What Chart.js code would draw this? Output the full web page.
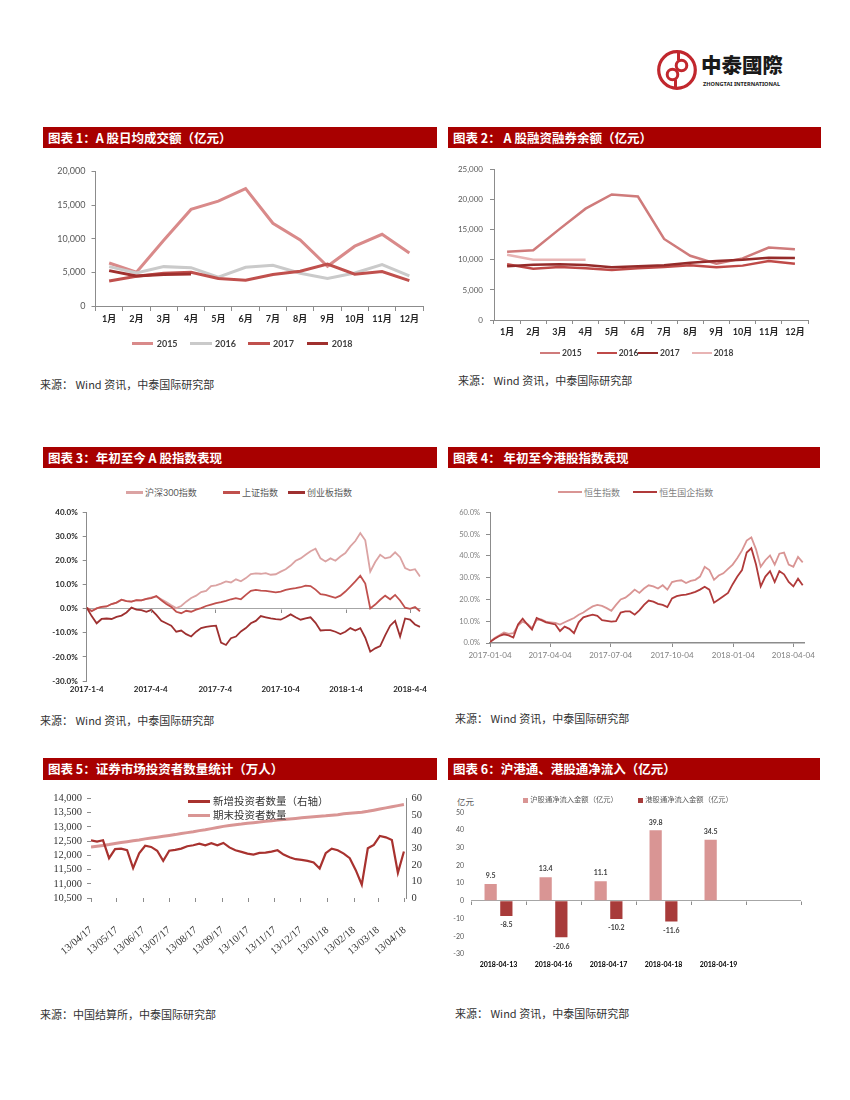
<!DOCTYPE html>
<html lang="zh-CN"><head><meta charset="utf-8"><title>中泰国际</title>
<script src="https://cdn.jsdelivr.net/npm/chart.js@4.4.1/dist/chart.umd.min.js"></script>
<style>
html,body{margin:0;padding:0;background:#fff;}
#page{position:relative;width:850px;height:1100px;overflow:hidden;font-family:"Noto Sans CJK SC","Noto Sans",sans-serif;}
.bar{position:absolute;height:21px;background:#A80000;color:#fff;font-weight:700;font-size:12.5px;line-height:21px;padding-left:5px;box-sizing:border-box;white-space:nowrap;}
.src{position:absolute;font-size:11px;line-height:14px;color:#333;white-space:nowrap;}
.cw{position:absolute;}
</style></head>
<body><div id="page">
<svg style="position:absolute;left:656px;top:49px" width="42" height="42" viewBox="0 0 42 42">
 <circle cx="21" cy="21" r="18.3" fill="none" stroke="#C1272D" stroke-width="3.2"/>
 <path d="M22.5 3 L22.5 11.5 M19.5 30.5 L19.5 39" stroke="#C1272D" stroke-width="3" fill="none"/>
 <circle cx="25.5" cy="16.5" r="5.3" fill="none" stroke="#C1272D" stroke-width="3"/>
 <circle cx="16.5" cy="25.5" r="5.3" fill="none" stroke="#C1272D" stroke-width="3"/>
</svg>
<div style="position:absolute;left:701px;top:53px;font-family:'Noto Sans CJK TC';font-weight:900;font-size:20.5px;line-height:22px;color:#1a1a1a;">中泰國際</div>
<div style="position:absolute;left:703px;top:81px;font-family:'Noto Sans';font-weight:700;font-size:5.6px;line-height:7px;color:#1a1a1a;">ZHONGTAI INTERNATIONAL</div>

<div class="bar" style="left:43px;top:127px;width:394px">图表 1：A 股日均成交额（亿元）</div>
<div class="bar" style="left:448px;top:127px;width:373px">图表 2： A 股融资融券余额（亿元）</div>
<div class="bar" style="left:43px;top:447px;width:394px">图表 3：年初至今 A 股指数表现</div>
<div class="bar" style="left:448px;top:447px;width:372px">图表 4： 年初至今港股指数表现</div>
<div class="bar" style="left:43px;top:758px;width:394px;height:22px;line-height:22px">图表 5：证券市场投资者数量统计（万人）</div>
<div class="bar" style="left:448px;top:758px;width:372px;height:22px;line-height:22px">图表 6：沪港通、港股通净流入（亿元）</div>

<div class="src" style="left:40px;top:377px">来源： Wind 资讯，中泰国际研究部</div>
<div class="src" style="left:458px;top:373px">来源： Wind 资讯，中泰国际研究部</div>
<div class="src" style="left:40px;top:713px">来源： Wind 资讯，中泰国际研究部</div>
<div class="src" style="left:455px;top:711px">来源： Wind 资讯，中泰国际研究部</div>
<div class="src" style="left:40px;top:1007px">来源：中国结算所，中泰国际研究部</div>
<div class="src" style="left:455px;top:1006px">来源： Wind 资讯，中泰国际研究部</div>

<div style="position:absolute;left:457px;top:795px;font-size:8.5px;line-height:12px;color:#595959">亿元</div>

<div class="cw" style="left:40px;top:160px;width:395px;height:166px"><canvas id="c1"></canvas></div>
<div class="cw" style="left:445px;top:158px;width:375px;height:182px"><canvas id="c2"></canvas></div>
<div class="cw" style="left:40px;top:500px;width:395px;height:199px"><canvas id="c3"></canvas></div>
<div class="cw" style="left:445px;top:500px;width:375px;height:163px"><canvas id="c4"></canvas></div>
<div class="cw" style="left:40px;top:785px;width:395px;height:175px"><canvas id="c5"></canvas></div>
<div class="cw" style="left:445px;top:800px;width:375px;height:174px"><canvas id="c6"></canvas></div>
</div>
<script>
// ---------- Chart 1: A股日均成交额 ----------
const months = ['1月','2月','3月','4月','5月','6月','7月','8月','9月','10月','11月','12月'];
const years = ['2015','2016','2017','2018'];
const turnover2015 = [6390, 5010, 9780, 14350, 15580, 17440, 12290, 9830, 5900, 8890, 10660, 7860];
const turnover2016 = [5850, 4900, 5850, 5700, 4280, 5750, 6040, 4870, 4080, 4910, 6140, 4470];
const turnover2017 = [3730, 4420, 4870, 5010, 4080, 3830, 4670, 5160, 6240, 4720, 5110, 3780];
const turnover2018 = [5260, 4470, 4670, 4770];
// ---------- Chart 2: 融资融券余额 ----------
const margin2015 = [11350, 11620, 15130, 18530, 20890, 20560, 13490, 10690, 9380, 10250, 12060, 11790];
const margin2016 = [9270, 8550, 8830, 8610, 8330, 8610, 8830, 9100, 8770, 9050, 9810, 9380];
const margin2017 = [8940, 9210, 9270, 9160, 8770, 8940, 9100, 9540, 9810, 10030, 10360, 10310];
const margin2018 = [10860, 10030, 10030, 10030];
// ---------- Chart 3 & 4: weekly index performance ----------
const weeklyDates = ["2017-01-04","2017-01-11","2017-01-18","2017-01-25","2017-02-01","2017-02-08","2017-02-15","2017-02-22","2017-03-01","2017-03-08","2017-03-15","2017-03-22","2017-03-29","2017-04-05","2017-04-12","2017-04-19","2017-04-26","2017-05-03","2017-05-10","2017-05-17","2017-05-24","2017-05-31","2017-06-07","2017-06-14","2017-06-21","2017-06-28","2017-07-05","2017-07-12","2017-07-19","2017-07-26","2017-08-02","2017-08-09","2017-08-16","2017-08-23","2017-08-30","2017-09-06","2017-09-13","2017-09-20","2017-09-27","2017-10-04","2017-10-11","2017-10-18","2017-10-25","2017-11-01","2017-11-08","2017-11-15","2017-11-22","2017-11-29","2017-12-06","2017-12-13","2017-12-20","2017-12-27","2018-01-03","2018-01-10","2018-01-17","2018-01-24","2018-01-31","2018-02-07","2018-02-14","2018-02-21","2018-02-28","2018-03-07","2018-03-14","2018-03-21","2018-03-28","2018-04-04","2018-04-11","2018-04-18"];
const aNames = ['沪深300指数','上证指数','创业板指数'];
const hs300 = [0.5,-0.8,0.2,0.8,1.0,2.0,2.6,3.8,3.2,3.0,3.6,3.5,4.2,4.8,5.2,4.0,2.8,1.5,0.3,1.2,3.0,4.5,5.5,7.0,7.5,9.5,9.8,10.5,11.4,11.0,12.3,11.5,12.8,14.5,14.8,14.6,14.9,14.2,14.4,15.5,16.5,18.0,20.0,21.0,22.5,24.0,25.0,21.0,19.7,21.0,20.0,21.8,23.2,26.0,28.2,31.5,28.5,15.5,19.5,22.5,21.0,21.5,23.5,21.5,17.0,16.0,16.5,13.5];
const szzs = [0.5,-1.0,0.2,0.8,1.0,2.0,2.6,3.8,3.2,3.0,3.6,3.5,4.2,4.5,5.3,3.6,2.0,0.8,-1.2,-1.8,-0.8,-1.2,-0.3,0.3,1.2,1.8,2.4,2.8,3.3,4.0,4.5,4.0,5.8,7.5,7.9,7.6,7.5,7.2,6.9,7.2,7.9,8.3,8.6,9.0,9.7,9.5,8.0,6.1,5.8,5.2,4.6,5.5,7.2,9.3,11.4,13.8,10.5,0.2,1.8,3.8,5.5,4.0,5.8,3.5,0.5,0.0,0.8,-1.0];
const cyb = [0.5,-3.0,-6.0,-4.2,-4.0,-4.2,-3.3,-2.8,-1.5,0.5,-0.3,-0.5,-1.2,-0.4,-2.5,-5.0,-6.0,-7.0,-9.5,-9.0,-10.5,-11.5,-9.5,-8.0,-7.5,-7.2,-7.0,-14.0,-15.0,-12.2,-11.5,-9.4,-8.0,-6.0,-5.0,-3.0,-3.5,-4.0,-4.3,-4.5,-3.5,-2.3,-3.5,-4.5,-4.0,-3.5,-5.8,-9.0,-8.8,-8.8,-9.5,-10.5,-9.5,-8.0,-9.0,-8.0,-12.0,-17.8,-16.4,-15.5,-11.0,-7.0,-5.0,-11.5,-4.0,-4.5,-6.5,-7.5];
const ticks3 = ['2017-1-4','2017-4-4','2017-7-4','2017-10-4','2018-1-4','2018-4-4'];
const hkNames = ['恒生指数','恒生国企指数'];
const hsi = [0.5,2.3,3.5,4.8,4.2,4.5,8.0,9.8,8.8,6.8,10.5,10.8,9.8,9.5,9.2,8.5,9.5,10.5,11.5,13.0,14.0,15.5,16.8,17.5,17.0,16.0,14.8,17.5,20.0,20.8,22.5,24.5,23.0,25.0,26.5,26.0,25.0,26.5,24.5,28.0,28.5,28.8,27.5,28.5,29.0,30.5,35.0,33.5,29.0,31.0,32.0,34.0,36.0,39.0,42.5,47.0,48.5,43.0,35.0,38.0,40.2,36.0,41.0,41.5,36.0,35.0,39.5,37.0];
const hscei = [0.5,2.0,3.2,4.0,3.5,2.5,8.5,11.2,8.5,6.2,11.5,10.5,9.5,9.0,8.5,5.5,7.5,6.5,4.5,9.5,11.8,12.5,13.0,12.5,10.5,10.2,9.8,10.0,14.0,14.5,14.5,13.0,15.0,17.5,19.5,19.0,18.0,17.5,16.5,20.5,21.5,22.0,22.2,22.8,23.5,24.5,25.8,24.5,18.5,20.0,21.5,23.0,27.0,30.5,33.5,41.5,43.5,36.0,26.0,30.5,33.0,28.0,33.0,31.5,28.0,26.0,29.5,26.5];
const ticks4 = ['2017-01-04','2017-04-04','2017-07-04','2017-10-04','2018-01-04','2018-04-04'];
// ---------- Chart 5: 投资者数量 ----------
const investorDates = ["2017-04-13","2017-04-20","2017-04-27","2017-05-04","2017-05-11","2017-05-18","2017-05-25","2017-06-01","2017-06-08","2017-06-15","2017-06-22","2017-06-29","2017-07-06","2017-07-13","2017-07-20","2017-07-27","2017-08-03","2017-08-10","2017-08-17","2017-08-24","2017-08-31","2017-09-07","2017-09-14","2017-09-21","2017-09-28","2017-10-05","2017-10-12","2017-10-19","2017-10-26","2017-11-02","2017-11-09","2017-11-16","2017-11-23","2017-11-30","2017-12-07","2017-12-14","2017-12-21","2017-12-28","2018-01-04","2018-01-11","2018-01-18","2018-01-25","2018-02-01","2018-02-08","2018-02-15","2018-02-22","2018-03-01","2018-03-08","2018-03-15","2018-03-22","2018-03-29","2018-04-05","2018-04-12"];
const investorNames = ['新增投资者数量（右轴）','期末投资者数量'];
const newInvestors = [34.8,34.0,34.8,24.0,29.5,29.8,28.8,18.0,27.0,31.5,30.8,28.5,22.4,28.5,29.0,29.8,31.2,31.8,32.8,31.8,33.0,31.8,33.2,30.5,28.8,27.8,26.8,26.2,27.2,27.4,28.0,28.8,26.2,24.6,23.4,23.0,22.4,21.4,17.8,27.0,29.8,28.8,26.8,24.0,16.8,8.0,30.0,32.0,37.4,36.6,35.0,15.2,28.0];
const totalInvestors = [12290,12320,12350,12380,12420,12450,12480,12510,12540,12580,12610,12640,12670,12700,12730,12770,12800,12830,12870,12900,12940,12980,13020,13050,13080,13100,13130,13150,13170,13200,13220,13240,13260,13280,13300,13320,13340,13360,13375,13390,13410,13430,13460,13480,13500,13520,13550,13590,13630,13670,13710,13750,13790];
const ticks5 = ['13/04/17','13/05/17','13/06/17','13/07/17','13/08/17','13/09/17','13/10/17','13/11/17','13/12/17','13/01/18','13/02/18','13/03/18','13/04/18'];
// ---------- Chart 6: 沪港通 / 港股通 ----------
const flowDates = ['2018-04-13','2018-04-16','2018-04-17','2018-04-18','2018-04-19',''];
const flowNames = ['沪股通净流入金额（亿元）','港股通净流入金额（亿元）'];
const northbound = [9.5, 13.4, 11.1, 39.8, 34.5, null];
const southbound = [-8.5, -20.6, -10.2, -11.6, null, null];

// ---------- helpers ----------
function dayNum(s){ const p=s.split('-').map(Number); return Date.UTC(p[0],p[1]-1,p[2])/86400000; }
function dayNumDMY(s){ const p=s.split('/').map(Number); return Date.UTC(2000+p[2],p[1]-1,p[0])/86400000; }
function toXY(dates, vals, base){ return dates.map((d,i)=>({x:dayNum(d)-base, y:vals[i]})); }
const fixW = w => s => { s.width = w; };
const fixH = h => s => { s.height = h; };
const GRAY = '#8c8c8c';
const SANS = "Lato, 'Noto Sans CJK SC', sans-serif";
const SERIF = "'Liberation Serif', 'Noto Sans CJK SC', serif";

Chart.defaults.font.family = SANS;
Chart.defaults.animation = false;
Chart.defaults.responsive = true;
Chart.defaults.maintainAspectRatio = false;
Chart.defaults.plugins.legend.display = false;
Chart.defaults.plugins.tooltip.enabled = false;
Chart.defaults.elements.point.radius = 0;
Chart.defaults.elements.line.tension = 0;

function addLegend(chart, xs, o){
  const page = document.getElementById('page');
  chart.data.datasets.forEach((ds,i)=>{
    const y = Array.isArray(o.y) ? o.y[i] : o.y;
    const mh = Array.isArray(o.mh) ? o.mh[i] : o.mh;
    const m = document.createElement('div');
    m.style.cssText = `position:absolute;left:${xs[i]}px;top:${y-mh/2}px;width:${o.mw}px;height:${mh}px;background:${o.square?ds.backgroundColor:ds.borderColor}`;
    page.appendChild(m);
    const t = document.createElement('div');
    t.textContent = ds.label;
    const lh = Math.round(o.fs*1.4);
    t.style.cssText = `position:absolute;left:${xs[i]+o.mw+o.gap}px;top:${y-lh/2}px;line-height:${lh}px;font-size:${o.fs}px;font-family:${o.family||SANS};font-weight:${o.weight||400};color:${o.color};white-space:nowrap`;
    page.appendChild(t);
  });
}
const zeroTicks = getXs => ({
  id:'zeroTicks',
  afterDatasetsDraw(chart){
    const ctx = chart.ctx, y0 = Math.round(chart.scales.y.getPixelForValue(0))+0.5;
    ctx.save(); ctx.strokeStyle = GRAY; ctx.lineWidth = 1; ctx.beginPath();
    getXs(chart).forEach(x=>{ ctx.moveTo(Math.round(x)+0.5, y0); ctx.lineTo(Math.round(x)+0.5, y0+3.5); });
    ctx.stroke(); ctx.restore();
  }
});

// ---------- Chart 1 ----------
const ch1 = new Chart(document.getElementById('c1'), {
  type:'line',
  data:{labels:months, datasets:[
    {label:years[0], data:turnover2015, borderColor:'#D98A8A', borderWidth:3, order:3},
    {label:years[1], data:turnover2016, borderColor:'#CACACA', borderWidth:3, order:2},
    {label:years[2], data:turnover2017, borderColor:'#C0504D', borderWidth:3, order:1},
    {label:years[3], data:turnover2018, borderColor:'#A0302E', borderWidth:3, order:0}
  ]},
  options:{
    layout:{padding:{top:10,right:12,bottom:0,left:0}},
    scales:{
      x:{offset:true, grid:{drawOnChartArea:false, offset:true, tickLength:5, color:GRAY}, border:{color:GRAY},
         ticks:{font:{size:9,weight:'bold'}, color:'#262626', padding:3, autoSkip:false, maxRotation:0}, afterFit:fixH(20)},
      y:{min:0, max:20000, ticks:{stepSize:5000, font:{size:9}, color:'#595959', padding:6, autoSkip:false},
         grid:{drawOnChartArea:false, tickLength:4, color:GRAY}, border:{color:GRAY}, afterFit:fixW(55.5)}
    }
  }
});
addLegend(ch1, [131.7,190,248,306.7], {y:343, mw:21.5, mh:3, gap:3.5, fs:9, weight:700, color:'#404040'});

// ---------- Chart 2 ----------
const ch2 = new Chart(document.getElementById('c2'), {
  type:'line',
  data:{labels:months, datasets:[
    {label:years[0], data:margin2015, borderColor:'#CF7B7B', borderWidth:2.5, order:3},
    {label:years[1], data:margin2016, borderColor:'#BF4A48', borderWidth:2.5, order:2},
    {label:years[2], data:margin2017, borderColor:'#952B2A', borderWidth:2.5, order:1},
    {label:years[3], data:margin2018, borderColor:'#E8B4B4', borderWidth:2.5, order:0}
  ]},
  options:{
    layout:{padding:{top:10,right:12,bottom:0,left:0}},
    scales:{
      x:{offset:true, grid:{drawOnChartArea:false, offset:true, tickLength:4, color:GRAY}, border:{color:GRAY},
         ticks:{font:{size:9,weight:'bold'}, color:'#262626', padding:3, autoSkip:false, maxRotation:0}, afterFit:fixH(20)},
      y:{min:0, max:25000, ticks:{stepSize:5000, font:{size:8}, color:'#595959', padding:7, autoSkip:false},
         grid:{drawOnChartArea:false, tickLength:4, color:GRAY}, border:{color:GRAY}, afterFit:fixW(49)}
    }
  }
});
addLegend(ch2, [540,596.7,638,691.7], {y:353, mw:20, mh:2.5, gap:2, fs:8.5, weight:700, color:'#404040'});

// ---------- Chart 3 ----------
const base3 = dayNum(weeklyDates[0]);
const tickMap3 = {}; ticks3.forEach(t=>{ tickMap3[dayNum(t)-base3] = t; });
const ch3 = new Chart(document.getElementById('c3'), {
  type:'line',
  data:{datasets:[
    {label:aNames[0], data:toXY(weeklyDates,hs300,base3), borderColor:'#DBA3A3', borderWidth:1.8, order:2},
    {label:aNames[1], data:toXY(weeklyDates,szzs,base3), borderColor:'#C0504D', borderWidth:1.8, order:1},
    {label:aNames[2], data:toXY(weeklyDates,cyb,base3), borderColor:'#9E3030', borderWidth:1.8, order:0}
  ]},
  options:{
    layout:{padding:{top:12.7,right:14.3,bottom:0,left:0}},
    scales:{
      x:{type:'linear', min:0, max:470,
         afterBuildTicks:s=>{ s.ticks = Object.keys(tickMap3).map(v=>({value:+v})); },
         ticks:{callback:v=>tickMap3[v], font:{size:8,weight:'bold'}, color:'#262626', padding:4, autoSkip:false, maxRotation:0},
         grid:{display:false, drawTicks:false}, border:{display:false}, afterFit:fixH(18)},
      y:{min:-30, max:40, ticks:{stepSize:10, callback:v=>v.toFixed(1)+'%', font:{size:8,weight:'bold'}, color:'#262626', padding:5, autoSkip:false},
         grid:{color:c=>c.tick && c.tick.value===0 ? '#a6a6a6' : 'rgba(0,0,0,0)', tickColor:GRAY, tickLength:4}, border:{color:GRAY}, afterFit:fixW(46.7)}
    }
  },
  plugins:[zeroTicks(ch=>Object.keys(tickMap3).slice(1).map(v=>ch.scales.x.getPixelForValue(+v)))]
});
addLegend(ch3, [126,223,288], {y:492.7, mw:17, mh:2.5, gap:2, fs:9, color:'#595959'});

// ---------- Chart 4 ----------
const tickMap4 = {}; ticks4.forEach(t=>{ tickMap4[dayNum(t)-base3] = t; });
const ch4 = new Chart(document.getElementById('c4'), {
  type:'line',
  data:{datasets:[
    {label:hkNames[0], data:toXY(weeklyDates,hsi,base3), borderColor:'#D99594', borderWidth:1.8, order:1},
    {label:hkNames[1], data:toXY(weeklyDates,hscei,base3), borderColor:'#B03A3A', borderWidth:1.8, order:0}
  ]},
  options:{
    layout:{padding:{top:12.3,right:15.3,bottom:0,left:0}},
    scales:{
      x:{type:'linear', min:0, max:472,
         afterBuildTicks:s=>{ s.ticks = Object.keys(tickMap4).map(v=>({value:+v})); },
         ticks:{callback:v=>tickMap4[v], font:{size:8}, color:'#7f7f7f', padding:4, autoSkip:false, maxRotation:0},
         grid:{drawOnChartArea:false, tickLength:4, color:GRAY}, border:{color:GRAY, width:1.5}, afterFit:fixH(20)},
      y:{min:0, max:60, ticks:{stepSize:10, callback:v=>v.toFixed(1)+'%', font:{size:7.5}, color:'#7f7f7f', padding:6, autoSkip:false},
         grid:{drawOnChartArea:false, tickLength:4, color:GRAY}, border:{color:GRAY}, afterFit:fixW(45)}
    }
  }
});
addLegend(ch4, [558,633.3], {y:492, mw:24, mh:2.5, gap:2, fs:9, color:'#7f7f7f'});

// ---------- Chart 5 ----------
const base5 = dayNum(investorDates[0]);
const tickMap5 = {}; ticks5.forEach(t=>{ tickMap5[dayNumDMY(t)-base5] = t; });
const ch5 = new Chart(document.getElementById('c5'), {
  type:'line',
  data:{datasets:[
    {label:investorNames[0], data:toXY(investorDates,newInvestors,base5), borderColor:'#A8322F', borderWidth:2.2, yAxisID:'y1', order:0},
    {label:investorNames[1], data:toXY(investorDates,totalInvestors,base5), borderColor:'#D99594', borderWidth:3, yAxisID:'y', order:1}
  ]},
  options:{
    layout:{padding:{top:13.5,right:0,bottom:0,left:0}},
    scales:{
      x:{type:'linear', min:0, max:367,
         afterBuildTicks:s=>{ s.ticks = Object.keys(tickMap5).map(v=>({value:+v})); },
         ticks:{callback:v=>tickMap5[v], font:{size:10.5,family:SERIF}, color:'#333', padding:22, autoSkip:false, minRotation:40, maxRotation:40},
         grid:{drawOnChartArea:false, tickLength:4, color:GRAY}, border:{display:false}, afterFit:fixH(62)},
      y:{position:'left', min:10500, max:14000, ticks:{stepSize:500, font:{size:10.5,family:SERIF}, color:'#333', padding:5, autoSkip:false},
         grid:{drawOnChartArea:false, tickLength:4, color:GRAY}, border:{display:false}, afterFit:fixW(51)},
      y1:{position:'right', min:0, max:60, ticks:{stepSize:10, font:{size:10.5,family:SERIF}, color:'#333', padding:5, autoSkip:false},
         grid:{drawOnChartArea:false, drawTicks:false}, border:{color:GRAY}, afterFit:fixW(23)}
    }
  }
});
addLegend(ch5, [188,188], {y:[801.7,815], mw:22, mh:[2.5,3], gap:3, fs:10.5, family:SERIF, color:'#333'});

// ---------- Chart 6 ----------
const barLabels = {
  id:'barLabels',
  afterDatasetsDraw(chart){
    const ctx = chart.ctx;
    ctx.save(); ctx.font = "bold 7px " + SANS; ctx.fillStyle = '#404040'; ctx.textAlign = 'center'; ctx.textBaseline = 'middle';
    chart.data.datasets.forEach((ds,i)=>{
      chart.getDatasetMeta(i).data.forEach((bar,j)=>{
        const v = ds.data[j]; if (v === null || v === undefined) return;
        ctx.fillText(v.toFixed(1), bar.x, v >= 0 ? bar.y - 8 : bar.y + 9);
      });
    });
    ctx.restore();
  }
};
const ch6 = new Chart(document.getElementById('c6'), {
  type:'bar',
  data:{labels:flowDates, datasets:[
    {label:flowNames[0], data:northbound, backgroundColor:'#D99594', categoryPercentage:0.571, barPercentage:0.78},
    {label:flowNames[1], data:southbound, backgroundColor:'#A83B3A', categoryPercentage:0.571, barPercentage:0.78}
  ]},
  options:{
    layout:{padding:{top:12.3,right:19,bottom:0,left:0}},
    scales:{
      x:{grid:{display:false, drawTicks:false}, border:{display:false}, ticks:{font:{size:7,weight:'bold'}, color:'#000', padding:6.5, autoSkip:false, maxRotation:0}, afterFit:fixH(20)},
      y:{min:-30, max:50, ticks:{stepSize:10, font:{size:7}, color:'#595959', padding:7, autoSkip:false},
         grid:{color:c=>c.tick && c.tick.value===0 ? '#a6a6a6' : 'rgba(0,0,0,0)', drawTicks:false}, border:{display:false}, afterFit:fixW(26)}
    }
  },
  plugins:[barLabels, zeroTicks(ch=>{ const x=ch.scales.x, n=flowDates.length, w=(x.right-x.left)/n; const a=[]; for(let k=0;k<=n;k++) a.push(x.left+k*w); return a; })]
});
addLegend(ch6, [523.3,638.3], {y:800, mw:5, mh:5, gap:2, fs:7.3, square:true, color:'#595959'});
</script>
</body></html>
